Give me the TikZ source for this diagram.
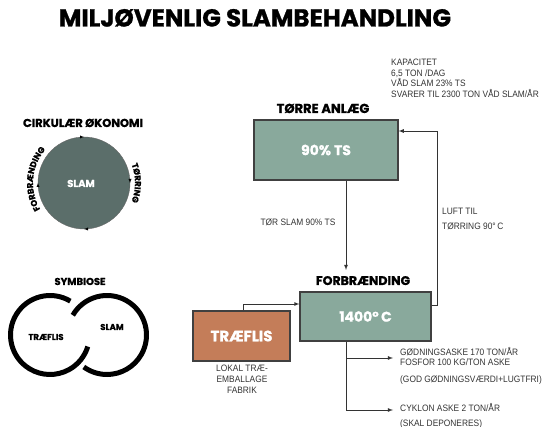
\documentclass[tikz,border=0pt]{standalone}
\usepackage{fontspec}
\setmainfont{Liberation Sans}[FakeStretch=0.9]
\newfontfamily\heavy{Poppins}[BoldFeatures={FakeBold=1}]
\usetikzlibrary{decorations.markings,decorations.text}
\definecolor{slamgray}{HTML}{5B6E6A}
\definecolor{sage}{HTML}{89A99C}
\definecolor{wood}{HTML}{C47D59}
\definecolor{ink}{HTML}{333333}

\begin{document}
\begin{tikzpicture}[x=1pt,y=1pt,
  head/.style={font=\heavy\bfseries\fontsize{#1}{#1}\selectfont, inner sep=0pt, anchor=base},
  note/.style={font=\fontsize{9.3}{10}\selectfont, text=ink, inner sep=0pt, anchor=base west},
  box/.style={draw=black!75, line width=1.1pt, text=white, font=\heavy\bfseries\fontsize{14}{14}\selectfont},
  ring/.style={line width=5pt},
  flow/.style={line width=0.8pt, draw=black!80, -latex}]
  \useasboundingbox (0,0) rectangle (545,427);

  \node[head=24.5] (title) at (255,400.5) {MILJØVENLIG SLAMBEHANDLING};

  % cirkulaer oekonomi
  \node[head=11.5] (cirk) at (83,300) {CIRKULÆR ØKONOMI};
  \node[circle, fill=slamgray, draw=black!60, minimum size=92, inner sep=0pt] (slam) at (84,244) {};
  \node[head=10, text=white] (slamtxt) at (81,240) {SLAM};
  \path[postaction={decorate}, decoration={markings,
      mark=between positions 0.125 and 0.875 step 0.25 with {\arrow{latex}}}]
    (84,244) ++(135:46) arc (135:-225:46);
  \path[decorate, decoration={text along path, text align=center,
      text={|\heavy\bfseries\fontsize{8.5}{8.5}\selectfont|FORBRÆNDING}}]
    (84,244) ++(225:51) arc (225:125:51);
  \path[decorate, decoration={text along path, text align=center,
      text={|\heavy\bfseries\fontsize{8.5}{8.5}\selectfont|TØRRING}}]
    (84,244) ++(50:51) arc (50:-50:51);

  % symbiose
  \node[head=10] (symb) at (80,142) {SYMBIOSE};
  \draw[ring] (50,92) ++(59:39.5) arc (59:343:39.5);
  \draw[ring] (107,92) ++(150:39.5) arc (150:-126:39.5);
  \node[head=8.5] (ringwood) at (46,87) {TRÆFLIS};
  \node[head=8.5] (ringslam) at (112,97) {SLAM};

  % anlaeg
  \node[head=13] (drylabel) at (323,314) {TØRRE ANLÆG};
  \node[box, fill=sage, minimum width=144, minimum height=60] (dryer) at (326,277) {90\% TS};
  \node[head=12.5] (burnlabel) at (363,142) {FORBRÆNDING};
  \node[box, fill=sage, minimum width=131, minimum height=49] (burner) at (365.5,110.5) {1400°\,C};
  \node[box, fill=wood, minimum width=97, minimum height=50,
    font=\heavy\bfseries\fontsize{15}{15}\selectfont] (chips) at (241.5,91) {TRÆFLIS};

  \coordinate (dryin) at (346,157);
  \draw[flow] (dryer.south -| dryin) -- (dryin);
  \coordinate (airlow) at (437,122);
  \coordinate (airup) at (437,296);
  \draw[flow] (burner.east |- airlow) -- (airlow) -- (airup) -- (dryer.east |- airup);
  \coordinate (chipsup) at (243,123);
  \draw[flow] (chips.north -| chipsup) -- (chipsup) -- (burner.west |- chipsup);
  \coordinate (ashdown) at (346,17);
  \coordinate (ashfert) at (393,69);
  \coordinate (ashcyc) at (393,17);
  \draw[flow] (burner.south -| ashdown) |- (ashfert);
  \draw[flow] (burner.south -| ashdown) |- (ashcyc);

  % tekster
  \foreach \t [count=\i] in {KAPACITET, {6,5 TON /DAG}, VÅD SLAM 23\% TS, SVARER TIL 2300 TON VÅD SLAM/ÅR}
    \node[note] (cap\i) at (391,372.2-10.7*\i) {\t};
  \node[note, anchor=base] (drynote) at (298,201.5) {TØR SLAM 90\% TS};
  \node[note] (air1) at (442,212.5) {LUFT TIL};
  \node[note] (air2) at (442,197.5) {TØRRING 90°\,C};
  \foreach \t [count=\i] in {LOKAL TRÆ-, EMBALLAGE, FABRIK}
    \node[note, anchor=base] (woodnote\i) at (242,66.5-11*\i) {\t};
  \node[note] (fert1) at (400,71.5) {GØDNINGSASKE 170 TON/ÅR};
  \node[note] (fert2) at (400,61) {FOSFOR 100 KG/TON ASKE};
  \node[note] (fert3) at (400,44.5) {(GOD GØDNINGSVÆRDI+LUGTFRI)};
  \node[note] (cyc1) at (400,15.5) {CYKLON ASKE 2 TON/ÅR};
  \node[note] (cyc2) at (400,0.5) {(SKAL DEPONERES)};
\end{tikzpicture}
\end{document}
